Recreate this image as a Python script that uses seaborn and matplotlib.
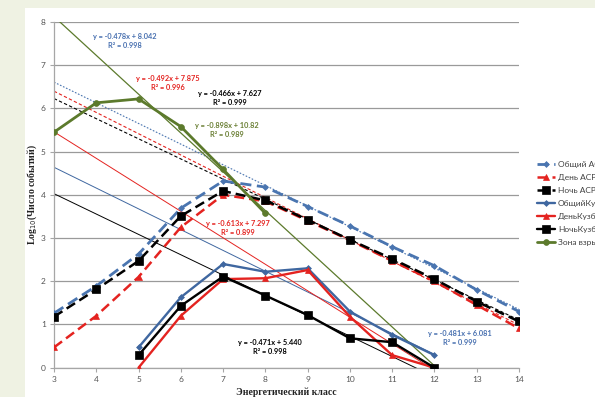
import matplotlib
matplotlib.use("Agg")
import matplotlib.pyplot as plt
from matplotlib.patches import Rectangle
import numpy as np
import pandas as pd
import seaborn as sns

sns.set_theme(style="white")
plt.rcParams["font.family"] = ["Lato", "DejaVu Sans"]

# Energy classes
x_asr = [3, 4, 5, 6, 7, 8, 9, 10, 11, 12, 13, 14]
x_kuz = [5, 6, 7, 8, 9, 10, 11, 12]
x_blast = [3, 4, 5, 6, 7, 8]

# log10(number of events)
total_asr = [1.26, 1.89, 2.63, 3.69, 4.32, 4.18, 3.73, 3.28, 2.80, 2.36, 1.80, 1.30]
day_asr = [0.47, 1.20, 2.10, 3.25, 4.00, 3.85, 3.40, 2.95, 2.47, 2.00, 1.45, 0.91]
night_asr = [1.18, 1.81, 2.47, 3.51, 4.09, 3.87, 3.42, 2.96, 2.52, 2.05, 1.53, 1.07]
total_kuz = [0.47, 1.63, 2.40, 2.22, 2.30, 1.30, 0.76, 0.29]
day_kuz = [0.00, 1.20, 2.05, 2.07, 2.26, 1.18, 0.29, 0.00]
night_kuz = [0.29, 1.43, 2.11, 1.67, 1.22, 0.68, 0.59, 0.00]
blast_zone = [5.45, 6.13, 6.22, 5.58, 4.59, 3.57]

labels = ["Общий АСР", "День АСР", "Ночь АСР", "ОбщийКузбасс",
          "ДеньКузбасс", "НочьКузбасс", "Зона взрывов"]

# Linear fits: slope, intercept, R^2, fitted x range
fits = {
    "total_asr": (-0.478, 8.042, 0.998, (3, 14)),
    "day_asr": (-0.492, 7.875, 0.996, (3, 14)),
    "night_asr": (-0.466, 7.627, 0.999, (3, 14)),
    "total_kuz": (-0.481, 6.081, 0.999, (3, 12)),
    "day_kuz": (-0.613, 7.297, 0.899, (3, 12)),
    "night_kuz": (-0.471, 5.440, 0.998, (3, 12)),
    "blast": (-0.898, 10.82, 0.989, (3, 12)),
}

BLUE = "#3f67a0"
BLUE_LT = "#4a75b0"
RED = "#e42320"
BLACK = "#000000"
OLIVE = "#5c7a2c"

W, H = 595, 397
fig = plt.figure(figsize=(W / 100, H / 100), dpi=100)
fig.patch.set_facecolor("#eff2e3")
fig.patches.append(Rectangle((25 / W, 0), 1 - 25 / W, 1 - 8 / H,
                             transform=fig.transFigure, facecolor="white",
                             edgecolor="none", zorder=-5))

ax = fig.add_axes([54 / W, 29.3 / H, 465 / W, 345.7 / H])
ax.set_facecolor("none")

# Trend lines
trend_styles = {
    "total_asr": dict(color=BLUE_LT, ls=(0, (1.5, 1.5)), lw=0.8),
    "day_asr": dict(color=RED, ls=(0, (3, 2)), lw=0.8),
    "night_asr": dict(color=BLACK, ls=(0, (3, 2)), lw=0.8),
    "total_kuz": dict(color=BLUE, ls="-", lw=0.7),
    "day_kuz": dict(color=RED, ls="-", lw=0.7),
    "night_kuz": dict(color=BLACK, ls="-", lw=0.7),
    "blast": dict(color=OLIVE, ls="-", lw=0.9),
}
for key, (k, b, r2, (x0, x1)) in fits.items():
    xs = np.array([x0, x1], dtype=float)
    ax.plot(xs, k * xs + b, zorder=2, **trend_styles[key])

dash = (4, 2)
series = [
    (x_asr, total_asr, BLUE_LT, "D", 3.0, 2.0, dash),
    (x_asr, day_asr, RED, "^", 4.2, 1.8, dash),
    (x_asr, night_asr, BLACK, "s", 5.2, 1.8, dash),
    (x_kuz, total_kuz, BLUE, "D", 3.0, 1.7, ""),
    (x_kuz, day_kuz, RED, "^", 4.2, 1.7, ""),
    (x_kuz, night_kuz, BLACK, "s", 5.2, 1.7, ""),
    (x_blast, blast_zone, OLIVE, "o", 4.2, 2.0, ""),
]
for (xs, ys, col, mk, ms, lw, ds), lab in zip(series, labels):
    df = pd.DataFrame({"x": xs, "y": ys})
    sns.lineplot(data=df, x="x", y="y", ax=ax, color=col, marker=mk,
                 markersize=ms, linewidth=lw, markeredgecolor=col,
                 markeredgewidth=0.5, label=lab, zorder=4)
    if ds:
        ax.lines[-1].set_dashes(ds)

# Equation labels
def eq(key):
    k, b, r2, _ = fits[key]
    return f"y = {k:.3f}x + {b:.3f}\nR² = {r2:.3f}" if key != "blast" else \
        f"y = {k:.3f}x + {b:.2f}\nR² = {r2:.3f}"

eq_pos = {
    "total_asr": (125, 41, "#4870b0"),
    "day_asr": (168, 83, RED),
    "night_asr": (230, 98, BLACK),
    "blast": (227, 130, "#6a7f34"),
    "day_kuz": (238, 228, RED),
    "night_kuz": (270, 347, BLACK),
    "total_kuz": (460, 338, "#4870b0"),
}
for key, (px, py, col) in eq_pos.items():
    fig.text(px / W, 1 - py / H, eq(key), color=col, fontsize=5.3,
             fontweight="bold", ha="center", va="center", linespacing=1.35)

ax.set_xlim(3, 14)
ax.set_ylim(0, 8)
ax.set_xticks(range(3, 15))
ax.set_yticks(range(0, 9))
ax.yaxis.grid(True, color="#9a9a9a", lw=0.9)
ax.xaxis.grid(False)
ax.set_axisbelow(True)
for side in ["top", "right"]:
    ax.spines[side].set_visible(False)
for side in ["left", "bottom"]:
    ax.spines[side].set_color("#a6a6a6")
    ax.spines[side].set_linewidth(0.9)
ax.tick_params(axis="both", which="major", labelsize=6, colors="#a6a6a6",
               labelcolor="#555555", length=3, width=0.8, direction="out",
               left=True, bottom=True, pad=3)
ax.set_xlabel("Энергетический класс", fontsize=7, fontweight="bold",
              family=["Liberation Serif", "DejaVu Serif"], color="#222222",
              labelpad=3)
ax.set_ylabel("Log$_{10}$(Число событий)", fontsize=7, fontweight="bold",
              family=["Liberation Serif", "DejaVu Serif"], color="#222222",
              labelpad=1)

handles, labs = ax.get_legend_handles_labels()
ax.legend().remove()
fig.legend(handles, labs, loc="upper left", bbox_to_anchor=(537 / W, 1 - 161 / H),
           frameon=False, fontsize=6, labelcolor="#404040", handlelength=2.2,
           handletextpad=0.3, labelspacing=0.72, borderpad=0, borderaxespad=0)

fig.savefig("out.png", dpi=100, facecolor=fig.get_facecolor())
